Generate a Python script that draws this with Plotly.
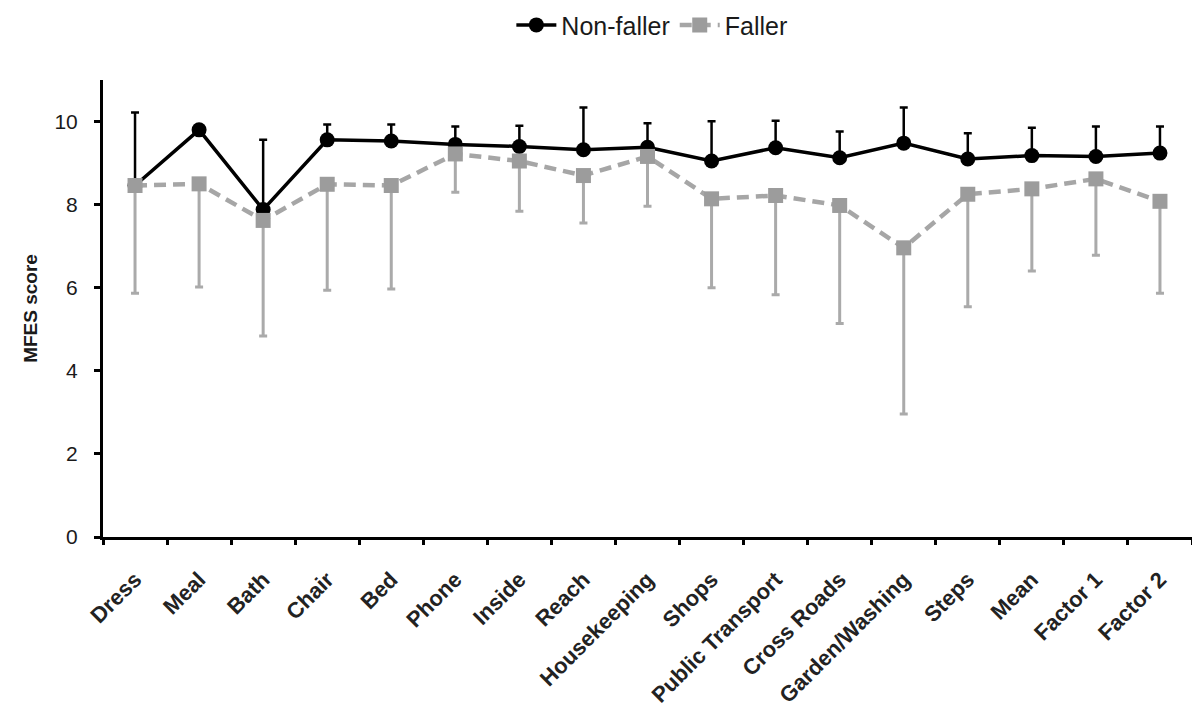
import plotly.graph_objects as go

categories = ["Dress", "Meal", "Bath", "Chair", "Bed", "Phone", "Inside", "Reach",
              "Housekeeping", "Shops", "Public Transport", "Cross Roads",
              "Garden/Washing", "Steps", "Mean", "Factor 1", "Factor 2"]

nonfaller_mean = [8.46, 9.80, 7.88, 9.56, 9.53, 9.45, 9.40, 9.32, 9.38, 9.05,
                  9.37, 9.13, 9.48, 9.10, 9.18, 9.16, 9.24]
nonfaller_sd = [1.76, 0.10, 1.68, 0.37, 0.40, 0.43, 0.50, 1.02, 0.58, 0.96,
                0.65, 0.63, 0.86, 0.62, 0.67, 0.72, 0.64]

faller_mean = [8.46, 8.50, 7.62, 8.49, 8.46, 9.22, 9.05, 8.70, 9.16, 8.14,
               8.22, 7.98, 6.96, 8.25, 8.38, 8.62, 8.08]
faller_sd = [2.59, 2.48, 2.78, 2.55, 2.49, 0.92, 1.21, 1.14, 1.20, 2.14,
             2.39, 2.84, 4.00, 2.71, 1.98, 1.84, 2.21]

zeros = [0] * len(categories)

FONT = "Liberation Sans, Arial, sans-serif"

fig = go.Figure()

fig.add_trace(go.Scatter(
    x=categories, y=nonfaller_mean, name="Non-faller", mode="lines+markers",
    line=dict(color="black", width=3.5),
    marker=dict(symbol="circle", size=15, color="black"),
    error_y=dict(type="data", symmetric=False, array=nonfaller_sd, arrayminus=zeros,
                 color="black", thickness=2.5, width=4),
))

fig.add_trace(go.Scatter(
    x=categories, y=faller_mean, name="Faller", mode="lines+markers",
    line=dict(color="#a6a6a6", width=4.5, dash="12px,7px"),
    marker=dict(symbol="square", size=15, color="#9c9c9c"),
    error_y=dict(type="data", symmetric=False, array=zeros, arrayminus=faller_sd,
                 color="#aaaaaa", thickness=3, width=4),
))

fig.update_layout(
    width=1192, height=720,
    margin=dict(l=103, r=0, t=80, b=183),
    plot_bgcolor="white", paper_bgcolor="white",
    font=dict(family=FONT, size=20, color="#1a1a1a"),
    showlegend=True,
    legend=dict(orientation="h", x=0.504, xanchor="center", y=1.12, yanchor="middle",
                font=dict(size=25), itemwidth=40, tracegroupgap=0),
)

fig.update_xaxes(
    type="category", range=[-0.5, 16.5],
    showline=True, linecolor="black", linewidth=3,
    ticks="outside", ticklen=5, tickwidth=3, tickcolor="black",
    tickson="boundaries", tickangle=-45, showgrid=False,
    ticklabelstandoff=18,
    tickfont=dict(size=22, family=FONT, weight="bold", color="#222222"),
)

fig.update_yaxes(
    range=[0, 11], tickvals=[0, 2, 4, 6, 8, 10],
    showline=True, linecolor="black", linewidth=3,
    ticks="outside", ticklen=6, tickwidth=3, tickcolor="black",
    showgrid=False, zeroline=False,
    ticklabelstandoff=12,
    tickfont=dict(size=21),
    title=dict(text="<b>MFES score</b>", font=dict(size=19), standoff=12),
)

fig.write_html("out.html")
